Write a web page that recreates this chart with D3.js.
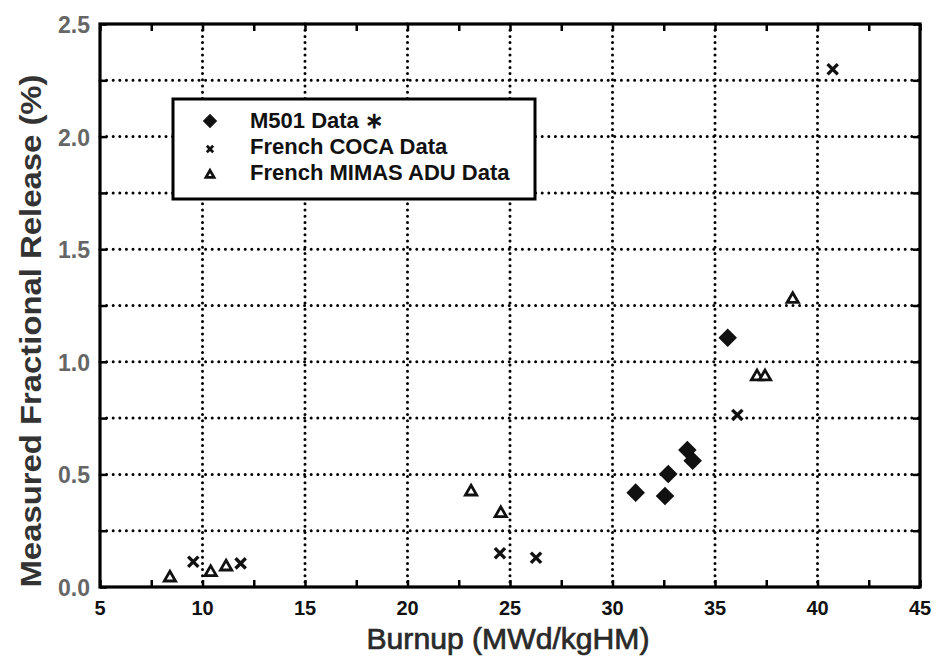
<!DOCTYPE html>
<html><head><meta charset="utf-8">
<script src="https://cdn.jsdelivr.net/npm/d3@7"></script>
<style>body{margin:0;background:#fff}svg{display:block}</style>
</head><body>
<svg id="c" width="939" height="670"></svg>
<script>
const xTicks = [5,10,15,20,25,30,35,40,45];
const yTicks = [0.0,0.5,1.0,1.5,2.0,2.5];
const seriesNames = ["M501 Data \u2217","French COCA Data","French MIMAS ADU Data"];
const m501X = [35.62,31.13,32.56,32.72,33.65,33.91];
const m501Y = [1.107,0.419,0.404,0.502,0.608,0.561];
const cocaX = [9.55,11.86,24.51,26.27,36.09,40.74];
const cocaY = [0.112,0.105,0.150,0.130,0.764,2.299];
const mimasX = [8.41,10.40,11.15,23.10,24.55,37.05,37.44,38.79];
const mimasY = [0.041,0.065,0.090,0.423,0.327,0.934,0.934,1.278];

(function(){
const svg = d3.select("#c");
const L=100,R=920,T=24,B=587;
const FF="Liberation Sans, Arial, sans-serif";
const x = d3.scaleLinear().domain([5,45]).range([L,R]);
const y = d3.scaleLinear().domain([0,2.5]).range([B,T]);

// grid
const g = svg.append("g");
const hg = d3.range(0.25,2.5,0.25);
g.selectAll("line.h").data(hg).join("line")
 .attr("x1",L).attr("x2",R).attr("y1",d=>y(d)).attr("y2",d=>y(d))
 .attr("stroke","#000").attr("stroke-width",3).attr("stroke-dasharray","0,6.6").attr("stroke-linecap","round");
g.selectAll("line.v").data(xTicks.slice(1,-1)).join("line")
 .attr("y1",T).attr("y2",B).attr("x1",d=>x(d)).attr("x2",d=>x(d))
 .attr("stroke","#000").attr("stroke-width",3).attr("stroke-dasharray","0,6.2").attr("stroke-linecap","round");

// axes with inward ticks
const xMinor = d3.range(5,45.01,2.5);
const yMinor = d3.range(0,2.51,0.25);
const axB = svg.append("g").attr("transform",`translate(0,${B})`)
 .call(d3.axisBottom(x).tickValues(xMinor).tickSize(-7).tickFormat(""));
const axT = svg.append("g").attr("transform",`translate(0,${T})`)
 .call(d3.axisTop(x).tickValues(xMinor).tickSize(-7).tickFormat(""));
const axL = svg.append("g").attr("transform",`translate(${L},0)`)
 .call(d3.axisLeft(y).tickValues(yMinor).tickSize(-7).tickFormat(""));
const axR = svg.append("g").attr("transform",`translate(${R},0)`)
 .call(d3.axisRight(y).tickValues(yMinor).tickSize(-7).tickFormat(""));
[axB,axT,axL,axR].forEach(a=>{
  a.select(".domain").remove();
  a.selectAll(".tick line").attr("stroke","#000").attr("stroke-width",2.5);
});
svg.append("rect").attr("x",L).attr("y",T).attr("width",R-L).attr("height",B-T)
 .attr("fill","none").attr("stroke","#000").attr("stroke-width",3.2);

// tick labels
svg.append("g").selectAll("text").data(xTicks).join("text")
 .attr("x",d=>x(d)).attr("y",B+28).attr("text-anchor","middle")
 .attr("font-family",FF).attr("font-weight","bold")
 .attr("font-size",20).attr("fill","#111").text(d=>d);
svg.append("g").selectAll("text").data(yTicks).join("text")
 .attr("x",L-10).attr("y",d=>y(d)+9).attr("text-anchor","end")
 .attr("font-family",FF).attr("font-weight","bold")
 .attr("font-size",23).attr("fill","#666").text(d=>d.toFixed(1));

// axis titles
svg.append("text").attr("x",508).attr("y",649).attr("text-anchor","middle")
 .attr("font-family",FF).attr("font-size",29)
 .attr("textLength",283).attr("lengthAdjust","spacingAndGlyphs")
 .attr("fill","#2a2a2a").attr("stroke","#2a2a2a").attr("stroke-width",0.7).text("Burnup (MWd/kgHM)");
svg.append("text").attr("transform","translate(41,331) rotate(-90)").attr("text-anchor","middle")
 .attr("font-family",FF).attr("font-size",30).attr("font-weight","bold")
 .attr("textLength",513).attr("lengthAdjust","spacingAndGlyphs")
 .attr("fill","#333").text("Measured Fractional Release (%)");

// markers
const diamond = d3.symbol().type(d3.symbolSquare).size(135);
const tri = d3.symbol().type(d3.symbolTriangle).size(55);
const cross = d3.symbol().type(d3.symbolX).size(70);
const pts = svg.append("g");
pts.selectAll("path.d").data(m501X.map((v,i)=>[v,m501Y[i]])).join("path")
 .attr("transform",d=>`translate(${x(d[0])},${y(d[1])}) rotate(45)`).attr("d",diamond)
 .attr("fill","#111").attr("stroke","#111").attr("stroke-width",1.5);
pts.selectAll("path.x").data(cocaX.map((v,i)=>[v,cocaY[i]])).join("path")
 .attr("transform",d=>`translate(${x(d[0])},${y(d[1])})`).attr("d",cross)
 .attr("fill","none").attr("stroke","#111").attr("stroke-width",3.4);
pts.selectAll("path.t").data(mimasX.map((v,i)=>[v,mimasY[i]])).join("path")
 .attr("transform",d=>`translate(${x(d[0])},${y(d[1])})`).attr("d",tri)
 .attr("fill","#fff").attr("stroke","#111").attr("stroke-width",2.8);

// legend
const lg = svg.append("g");
lg.append("rect").attr("x",173).attr("y",99).attr("width",362).attr("height",100)
 .attr("fill","#fff").attr("stroke","#000").attr("stroke-width",3);
const rows=[121,147,173];
lg.append("path").attr("transform",`translate(210,${rows[0]}) rotate(45)`).attr("d",d3.symbol().type(d3.symbolSquare).size(80))
 .attr("fill","#111").attr("stroke","#111").attr("stroke-width",1.2);
lg.append("path").attr("transform",`translate(210,${rows[1]+2})`).attr("d",d3.symbol().type(d3.symbolX).size(28))
 .attr("fill","none").attr("stroke","#111").attr("stroke-width",2.8);
lg.append("path").attr("transform",`translate(210,${rows[2]+2})`).attr("d",d3.symbol().type(d3.symbolTriangle).size(28))
 .attr("fill","#fff").attr("stroke","#111").attr("stroke-width",2.8);
lg.selectAll("text").data(seriesNames).join("text")
 .attr("x",250).attr("y",(d,i)=>rows[i]+7)
 .attr("font-family",FF).attr("font-weight","bold")
 .attr("font-size",22).attr("fill","#111").text(d=>d);
})();
</script>
</body></html>
